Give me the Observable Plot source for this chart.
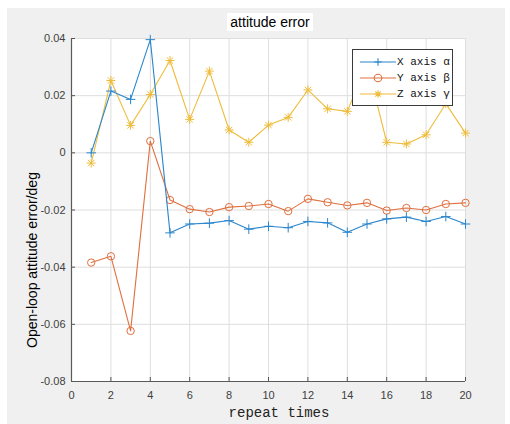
<!DOCTYPE html>
<html>
<head>
<meta charset="utf-8">
<script src="https://cdn.jsdelivr.net/npm/d3@7"></script>
<script src="https://cdn.jsdelivr.net/npm/@observablehq/plot@0.6"></script>
<style>
  html, body { margin: 0; padding: 0; background: #ffffff; }
  #page { position: relative; width: 510px; height: 424px; overflow: hidden; }
  #bg { position: absolute; left: 7px; top: 8px; width: 498px; height: 416px; background: #f0f0f0; }
  #chart { position: absolute; left: 0; top: 0; }
  #title { position: absolute; left: 227px; top: 13px; width: 86px; height: 18px; background: #fff;
           font: 14px "Liberation Sans", Arial, sans-serif; color: #000; text-align: center; line-height: 18px; white-space: nowrap; }
  #ylabel { position: absolute; left: 32px; top: 260px; transform: translate(-50%, -50%) rotate(-90deg);
            font: 14px "Liberation Sans", Arial, sans-serif; color: #000; white-space: nowrap; }
  #xlabel { position: absolute; left: 279px; top: 413px; transform: translate(-50%, -50%);
            font: 14px "Liberation Mono", "DejaVu Sans Mono", monospace; color: #222; white-space: nowrap; }
  #legend { position: absolute; left: 352px; top: 49px; width: 101px; height: 57px; box-sizing: border-box;
            background: #fff; border: 1.5px solid #3a3a3a; }
  .row { position: absolute; left: 0; height: 16px; width: 100%; }
  .row svg { position: absolute; left: 6px; top: 0; }
  .row span { position: absolute; left: 44px; top: 1px; font: 11px "Liberation Mono", "DejaVu Sans Mono", monospace; color: #111; white-space: nowrap; line-height: 14px; }
</style>
</head>
<body>
<div id="page">
  <div id="bg"></div>
  <div id="chart"></div>
  <div id="title">attitude error</div>
  <div id="ylabel">Open-loop attitude error/deg</div>
  <div id="xlabel">repeat times</div>
  <div id="legend"></div>
</div>
<script>
// ---- data ----
const trials = [1,2,3,4,5,6,7,8,9,10,11,12,13,14,15,16,17,18,19,20];
const xAlpha = [0, 0.0216, 0.0187, 0.0396, -0.0280, -0.0249, -0.0246, -0.0237, -0.0267, -0.0257,
                -0.0262, -0.0240, -0.0245, -0.0278, -0.0249, -0.0231, -0.0225, -0.0240, -0.0223, -0.0249];
const yBeta  = [-0.0384, -0.0362, -0.0623, 0.0041, -0.0165, -0.0197, -0.0207, -0.0190, -0.0186, -0.0179,
                -0.0204, -0.0161, -0.0173, -0.0184, -0.0175, -0.0202, -0.0193, -0.0200, -0.0179, -0.0175];
const zGamma = [-0.0036, 0.0253, 0.0096, 0.0204, 0.0323, 0.0117, 0.0286, 0.0080, 0.0037, 0.0097,
                0.0124, 0.0220, 0.0154, 0.0145, 0.0312, 0.0037, 0.0031, 0.0063, 0.0172, 0.0069];
const seriesNames = ["X axis \u03b1", "Y axis \u03b2", "Z axis \u03b3"];
const xTicks = [0,2,4,6,8,10,12,14,16,18,20];
const yTicks = [-0.08,-0.06,-0.04,-0.02,0,0.02,0.04];

const colors = ["#2b86cc", "#e0703f", "#efbc3a"];
const toRows = (vals) => trials.map((t, i) => ({t, v: vals[i]}));
const A = toRows(xAlpha), B = toRows(yBeta), C = toRows(zGamma);

const W = 510, H = 424, mL = 71, mR = 45, mT = 38, mB = 43;
const innerW = W - mL - mR, innerH = H - mT - mB;
const fmt = d => d === 0 ? "0" : d.toFixed(2).replace("\u2212", "-");

const plot = Plot.plot({
  width: W, height: H,
  marginLeft: mL, marginRight: mR, marginTop: mT, marginBottom: mB,
  style: {background: "transparent", fontFamily: "'Liberation Sans', Arial, sans-serif", fontSize: "11px"},
  x: {domain: [0, 20]},
  y: {domain: [-0.08, 0.04]},
  marks: [
    Plot.frame({fill: "#ffffff", stroke: null}),
    Plot.gridX(xTicks, {stroke: "#dedede", strokeOpacity: 1}),
    Plot.gridY(yTicks, {stroke: "#dedede", strokeOpacity: 1}),
    Plot.axisX(xTicks, {tickSize: 0, tickPadding: 10, tickFormat: d => String(d), fill: "#404040", label: null}),
    Plot.axisY(yTicks, {tickSize: 0, tickPadding: 6, tickFormat: fmt, fill: "#404040", label: null}),
    Plot.tickX(xTicks, {x: d => d, insetTop: innerH - 4, stroke: "#555"}),
    Plot.tickY(yTicks, {y: d => d, insetRight: innerW - 4, stroke: "#555"}),
    Plot.ruleX([0], {stroke: "#5a5a5a", strokeWidth: 1.2}),
    Plot.ruleY([-0.08], {stroke: "#5a5a5a", strokeWidth: 1.2}),
    // Z axis gamma (yellow)
    Plot.line(C, {x: "t", y: "v", stroke: colors[2], strokeWidth: 1.1}),
    Plot.dot(C, {x: "t", y: "v", symbol: "plus", r: 3.0, stroke: colors[2], strokeWidth: 1}),
    Plot.dot(C, {x: "t", y: "v", symbol: "times", r: 3.0, stroke: colors[2], strokeWidth: 1}),
    // Y axis beta (orange)
    Plot.line(B, {x: "t", y: "v", stroke: colors[1], strokeWidth: 1.1}),
    Plot.dot(B, {x: "t", y: "v", symbol: "circle", r: 3.7, stroke: colors[1], fill: "none", strokeWidth: 1}),
    // X axis alpha (blue)
    Plot.line(A, {x: "t", y: "v", stroke: colors[0], strokeWidth: 1.1}),
    Plot.dot(A, {x: "t", y: "v", symbol: "plus", r: 3.2, stroke: colors[0], strokeWidth: 1})
  ]
});
document.getElementById("chart").appendChild(plot);

// legend
const legend = document.getElementById("legend");
seriesNames.forEach((name, i) => {
  const row = document.createElement("div");
  row.className = "row";
  row.style.top = (4 + i * 16) + "px";
  const ns = "http://www.w3.org/2000/svg";
  const svg = document.createElementNS(ns, "svg");
  svg.setAttribute("width", 38); svg.setAttribute("height", 16);
  const ln = document.createElementNS(ns, "line");
  ln.setAttribute("x1", 1); ln.setAttribute("x2", 37); ln.setAttribute("y1", 8); ln.setAttribute("y2", 8);
  ln.setAttribute("stroke", colors[i]); ln.setAttribute("stroke-width", 1.2);
  svg.appendChild(ln);
  const cx = 19, cy = 8, s = 3.8;
  const path = document.createElementNS(ns, "path");
  let d;
  if (i === 0) d = `M${cx - s},${cy}H${cx + s}M${cx},${cy - s}V${cy + s}`;
  else if (i === 1) d = `M${cx + s},${cy}A${s},${s} 0 1,1 ${cx - s},${cy}A${s},${s} 0 1,1 ${cx + s},${cy}`;
  else { const k = s * 0.72; d = `M${cx - s},${cy}H${cx + s}M${cx},${cy - s}V${cy + s}M${cx - k},${cy - k}L${cx + k},${cy + k}M${cx - k},${cy + k}L${cx + k},${cy - k}`; }
  path.setAttribute("d", d); path.setAttribute("fill", "none");
  path.setAttribute("stroke", colors[i]); path.setAttribute("stroke-width", 1.1);
  svg.appendChild(path);
  row.appendChild(svg);
  const sp = document.createElement("span");
  sp.textContent = name;
  row.appendChild(sp);
  legend.appendChild(row);
});
</script>
</body>
</html>
